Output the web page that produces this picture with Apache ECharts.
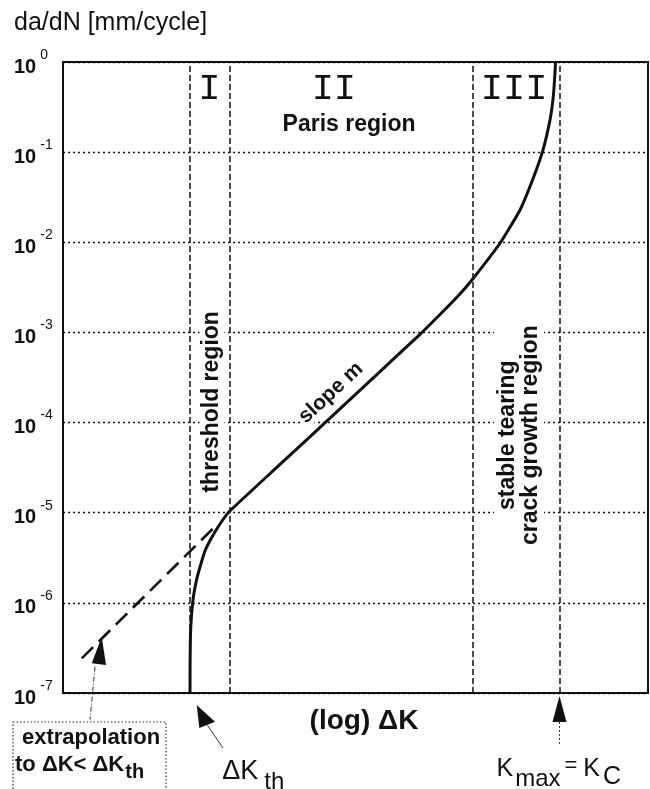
<!DOCTYPE html>
<html><head><meta charset="utf-8">
<script src="https://cdn.jsdelivr.net/npm/echarts@6/dist/echarts.min.js"></script>
<style>html,body{margin:0;padding:0;background:#fff}#c{width:650px;height:789px}</style>
</head><body><div id="c"></div>
<script>
// x: (log) ΔK, normalised 0..100 across the plot ; y: da/dN [mm/cycle]
const curveLogDK = [21.71,21.73,21.79,21.97,22.31,22.82,23.42,24.27,25.47,26.84,28.43,37.09,45.64,54.19,61.03,64.44,67.86,70.14,74.70,78.12,80.39,82.05,83.25,83.81,84.10,84.19];
const curveDaDN  = [1.0e-7,2.32e-7,4.40e-7,7.33e-7,1.19e-6,1.79e-6,2.50e-6,3.76e-6,5.37e-6,7.50e-6,1.03e-5,3.43e-5,1.12e-4,3.68e-4,9.53e-4,1.58e-3,2.67e-3,3.99e-3,9.75e-3,2.28e-2,5.16e-2,1.06e-1,2.28e-1,4.12e-1,7.55e-1,1.0];
const extrapLogDK = [3.20, 26.55];
const extrapDaDN  = [2.42e-7, 7.62e-6];
// boundaries: start of region I, ΔK_th, start of region III, K_max = K_C
const regionBounds = [21.6, 28.43, 70.09, 84.87];
const yMin = 1e-7, yMax = 1;
const romanLabels = ['I', 'II', 'III'];

const FONT = 'Liberation Sans, Arial, Helvetica, sans-serif';
const MONO = 'Liberation Mono, Courier New, monospace';

const chart = echarts.init(document.getElementById('c'), null, {renderer: 'canvas'});

const option = {
  animation: false,
  backgroundColor: '#fff',
  title: {
    text: 'da/dN [mm/cycle]', left: 9, top: 6,
    textStyle: {fontSize: 25, fontWeight: 'normal', fontFamily: FONT, color: '#111'}
  },
  grid: {left: 63, right: 2, top: 62, bottom: 96, show: true, borderColor: '#111', borderWidth: 2, backgroundColor: 'transparent'},
  xAxis: {
    type: 'value', min: 0, max: 100,
    axisLine: {show: false}, axisTick: {show: false}, axisLabel: {show: false}, splitLine: {show: false},
    name: '(log) ΔK', nameLocation: 'middle', nameGap: 14,
    nameTextStyle: {fontSize: 28, fontWeight: 'bold', fontFamily: FONT, color: '#111', padding: [0, 0, 0, 17], verticalAlign: 'top'}
  },
  yAxis: {
    type: 'log', logBase: 10, min: yMin, max: yMax, splitNumber: 7,
    axisLine: {show: false}, axisTick: {show: false},
    splitLine: {show: true, lineStyle: {type: [2, 3], color: '#111', width: 1.3}},
    axisLabel: {
      align: 'left', margin: 49,
      formatter: v => '{b|10}{s|' + Math.round(Math.log10(v)) + '}',
      rich: {
        b: {fontSize: 20, fontWeight: 'bold', fontFamily: FONT, color: '#111', padding: [10, 0, 0, 0]},
        s: {fontSize: 14, fontFamily: FONT, color: '#111', padding: [0, 0, 14, 4]}
      }
    }
  },
  series: [
    {
      type: 'line', name: 'curve', showSymbol: false, smooth: 0.15,
      data: curveLogDK.map((x, i) => [x, curveDaDN[i]]),
      lineStyle: {color: '#111', width: 3}, z: 5,
      markLine: {
        silent: true, symbol: 'none', label: {show: false},
        lineStyle: {color: '#111', type: [6, 3], width: 1.5},
        data: regionBounds.map(x => ({xAxis: x}))
      }
    },
    {
      type: 'line', name: 'extrapolation', showSymbol: false,
      data: extrapLogDK.map((x, i) => [x, extrapDaDN[i]]),
      lineStyle: {color: '#111', width: 2.6, type: [16, 8]}, z: 4
    }
  ]
};
chart.setOption(option);

// annotation anchors (data coords) — positions only
const P = (x, y) => chart.convertToPixel({gridIndex: 0}, [x, y]);
const yBot = P(0, yMin)[1];
const gLeft = P(0, yMin)[0];
const xTh = P(regionBounds[1], yMin)[0];
const xKc = P(regionBounds[3], yMin)[0];
const romanPos = [[25.0, Math.pow(10, -0.30)], [46.3, Math.pow(10, -0.30)], [77.1, Math.pow(10, -0.30)]];
const parisPos = P(48.9, Math.pow(10, -0.70));
const threshPos = P(25.47, Math.pow(10, -3.77));
const slopePos = P(45.8, Math.pow(10, -3.67));
const stablePos = P(77.95, Math.pow(10, -4.14));
const extTip = P(6.62, 4.21e-7);

const txt = (x, y, text, style, extra) => Object.assign({
  type: 'text', x, y, z: 50,
  style: Object.assign({text, fill: '#111', font: 'bold 22px ' + FONT, align: 'center', verticalAlign: 'middle'}, style)
}, extra || {});

const graphic = [];
romanPos.forEach((p, i) => {
  const q = P(p[0], p[1]);
  graphic.push(txt(q[0], q[1], romanLabels[i], {font: 'normal 37px ' + MONO}));
});
graphic.push(txt(parisPos[0], parisPos[1], 'Paris region', {font: 'bold 23px ' + FONT}));
graphic.push(txt(threshPos[0], threshPos[1], 'threshold region', {font: 'bold 23px ' + FONT, backgroundColor: '#fff', padding: [1, 3]}, {rotation: Math.PI / 2}));
graphic.push(txt(slopePos[0], slopePos[1], 'slope m', {font: 'bold 21px ' + FONT, backgroundColor: '#fff', padding: [0, 2]}, {rotation: 42.9 * Math.PI / 180}));
graphic.push(txt(stablePos[0], stablePos[1], 'stable tearing\ncrack growth region', {font: 'bold 23px ' + FONT, lineHeight: 23, backgroundColor: '#fff', padding: [2, 4]}, {rotation: Math.PI / 2}));

// ΔK_th arrow
graphic.push({type: 'polygon', z: 50, shape: {points: [[xTh - 32.6, yBot + 12], [xTh - 30, yBot + 35], [xTh - 14.3, yBot + 28.7]]}, style: {fill: '#111'}});
graphic.push({type: 'line', z: 50, shape: {x1: xTh - 22, y1: yBot + 32, x2: xTh - 6.3, y2: yBot + 55}, style: {stroke: '#333', lineWidth: 1}});
graphic.push(txt(xTh - 7, yBot + 79, '{a|ΔK}{b|th}', {
  align: 'left', rich: {
    a: {fontSize: 27, fontFamily: FONT, fill: '#111'},
    b: {fontSize: 24, fontFamily: FONT, fill: '#111', padding: [20, 0, 0, 6]}
  }
}));

// K_max = K_C arrow
graphic.push({type: 'polygon', z: 50, shape: {points: [[xKc, yBot + 3], [xKc - 7, yBot + 29], [xKc + 7, yBot + 29]]}, style: {fill: '#111'}});
graphic.push({type: 'line', z: 50, shape: {x1: xKc, y1: yBot + 29, x2: xKc, y2: yBot + 53}, style: {stroke: '#333', lineWidth: 1, lineDash: [2, 2]}});
graphic.push(txt(xKc - 63, yBot + 76, '{a|K}{b|max}{c|=}{a|K}{d|C}', {
  align: 'left', rich: {
    a: {fontSize: 25, fontFamily: FONT, fill: '#111'},
    b: {fontSize: 24, fontFamily: FONT, fill: '#111', padding: [20, 0, 0, 2]},
    c: {fontSize: 22, fontFamily: FONT, fill: '#111', padding: [0, 6, 6, 4]},
    d: {fontSize: 25, fontFamily: FONT, fill: '#111', padding: [16, 0, 0, 3]}
  }
}));

// extrapolation arrow + box
graphic.push({type: 'polygon', z: 50, shape: {points: [[extTip[0], extTip[1]], [extTip[0] - 10, extTip[1] + 26.6], [extTip[0] + 4.3, extTip[1] + 28.3]]}, style: {fill: '#111'}});
graphic.push({type: 'line', z: 50, shape: {x1: extTip[0] - 6.7, y1: extTip[1] + 30, x2: extTip[0] - 11.7, y2: extTip[1] + 83}, style: {stroke: '#333', lineWidth: 1, lineDash: [5, 2, 1, 2]}});
graphic.push({type: 'rect', z: 50, shape: {x: gLeft - 50, y: yBot + 29, width: 153, height: 80}, style: {fill: 'none', stroke: '#333', lineWidth: 1.2, lineDash: [1.5, 2]}});
graphic.push(txt(gLeft + 28, yBot + 45, 'extrapolation', {font: 'bold 22px ' + FONT}));
graphic.push(txt(gLeft - 48, yBot + 72, '{a|to ΔK< ΔK}{b|th}', {
  align: 'left', rich: {
    a: {fontSize: 22, fontWeight: 'bold', fontFamily: FONT, fill: '#111'},
    b: {fontSize: 20, fontWeight: 'bold', fontFamily: FONT, fill: '#111', padding: [14, 0, 0, 1]}
  }
}));

chart.setOption({graphic});
</script>
</body></html>
